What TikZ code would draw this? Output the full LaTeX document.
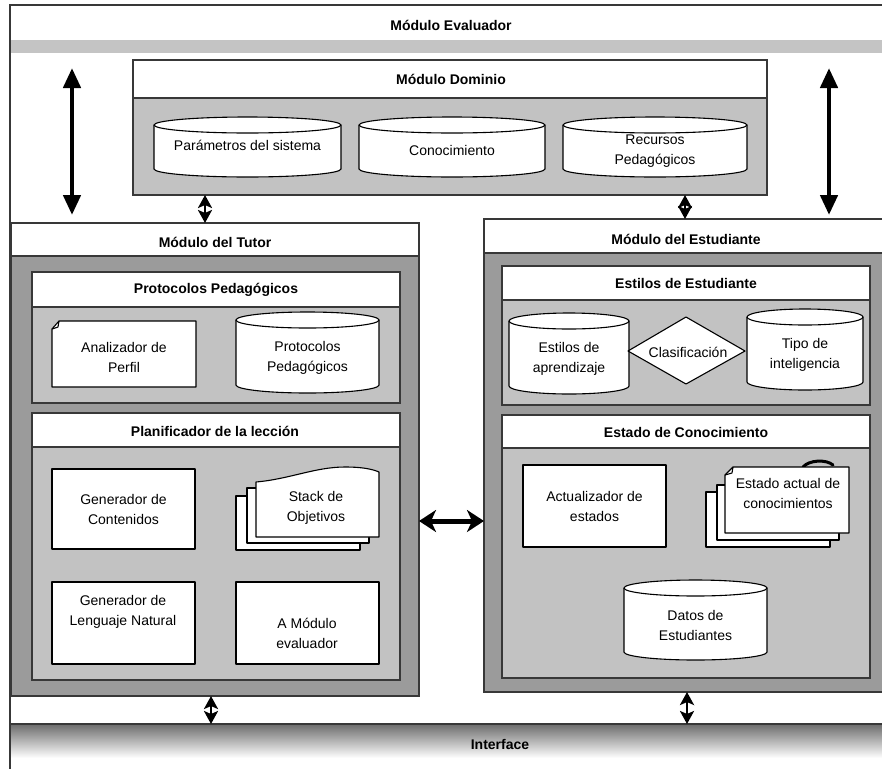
\documentclass[tikz,border=0pt]{standalone}
\usepackage{fontspec}
\setmainfont{Liberation Sans}
\usetikzlibrary{arrows.meta}

\definecolor{frameline}{HTML}{383838}
\definecolor{darkbody}{HTML}{9B9B9B}
\definecolor{lightbody}{HTML}{C2C2C2}
\definecolor{bandgray}{HTML}{C4C4C4}
\definecolor{ifacetop}{HTML}{6C6C6C}

\tikzset{
  frame/.style={draw=frameline, line width=1.5pt},
  box/.style={draw=frameline, line width=1.3pt},
  hdr/.style={font=\fontsize{14}{17}\selectfont\bfseries, inner sep=0pt},
  lbl/.style={font=\fontsize{14}{20}\selectfont, align=center, inner sep=0pt},
  sheet/.style={draw=black, line width=1.1pt, fill=white, line join=round},
  dbline/.style={draw=black, line width=1.1pt, fill=white},
  bigarrow/.style={line width=4.5pt,
    {Triangle[length=20pt,width=17pt]}-{Triangle[length=20pt,width=17pt]}},
  smallarrow/.style={line width=2.6pt,
    {Stealth[length=13pt,width=14pt,inset=3pt]}-{Stealth[length=13pt,width=14pt,inset=3pt]}},
  sidearrow/.style={line width=5pt,
    {Stealth[length=17pt,width=22pt,inset=5pt]}-{Stealth[length=17pt,width=22pt,inset=5pt]}},
}

% rectangular area given by its corners: name, style, x1, y1, x2, y2, text
\newcommand\areabox[7]{%
  \node[#2, anchor=north west, inner sep=0pt, outer sep=0pt,
        minimum width={(#5-#3)*1pt}, minimum height={(#6-#4)*1pt}] (#1) at (#3,#4) {#7};}

% database cylinder: name, x1, y1, x2, y2, text, text y
\newcommand\dbry{8}
\newcommand\dbcyl[7]{%
  \pgfmathsetmacro\dbcx{(#2+#4)/2}%
  \pgfmathsetmacro\dbrx{(#4-#2)/2}%
  \pgfmathsetmacro\dbyt{#3+\dbry}%
  \pgfmathsetmacro\dbyb{#5-\dbry}%
  \filldraw[dbline] (#2,\dbyt) -- (#2,\dbyb)
     arc[start angle=180, end angle=0, x radius=\dbrx, y radius=\dbry]
     -- (#4,\dbyt)
     arc[start angle=0, end angle=-180, x radius=\dbrx, y radius=\dbry] -- cycle;
  \draw[dbline, fill=none] (#2,\dbyt)
     arc[start angle=180, end angle=0, x radius=\dbrx, y radius=\dbry];
  \node[lbl] (#1) at (\dbcx,#7) {#6};}

\begin{document}
\begin{tikzpicture}[x=1pt, y=-1pt]
\useasboundingbox (0,0) rectangle (882,769);
\clip (0,0) rectangle (882,769);
\fill[white] (0,0) rectangle (882,769);

% ---- evaluator frame and interface bar
\fill[bandgray] (10,40) rectangle (882,53);
\shade[top color=ifacetop, bottom color=white] (10,724) rectangle (882,758);
\areabox{ifacebar}{}{10}{724}{882}{769}{}
\draw[frame] (882,5) -- (10,5) -- (10,769);
\draw[frame] (ifacebar.north west) -- (ifacebar.north east);
\node[hdr] (evaluador) at (451,25) {Módulo Evaluador};
\node[hdr] (interface) at (500,744) {Interface};

% ---- domain module
\areabox{dombody}{box, fill=lightbody}{133}{60}{767}{195}{}
\areabox{domhead}{box, fill=white}{133}{60}{767}{98}{}
\node[hdr] (domtitle) at (451,79) {Módulo Dominio};
\dbcyl{parametros}{154}{117}{341}{177}{Parámetros del sistema}{145}
\dbcyl{conocimiento}{359}{117}{545}{177}{Conocimiento}{150}
\dbcyl{recursos}{563}{117}{747}{177}{Recursos\\Pedagógicos}{151}

% ---- tutor module
\areabox{tutorbody}{box, fill=darkbody}{11}{223}{419}{696}{}
\areabox{tutorhead}{box, fill=white}{11}{223}{419}{256}{}
\node[hdr] (tutortitle) at (215,242) {Módulo del Tutor};

\areabox{protbody}{box, fill=lightbody}{32}{272}{400}{403}{}
\areabox{prothead}{box, fill=white}{32}{272}{400}{307}{}
\node[hdr] (prottitle) at (216,290) {Protocolos Pedagógicos};
\filldraw[sheet] (52,329) -- (59,321) -- (196,321) -- (196,387) -- (52,387) -- cycle;
\draw[sheet, fill=none] (52,329) -- (58,327) -- (59,321);
\node[lbl] (analizador) at (124,357) {Analizador de\\Perfil};
\dbcyl{protocolos}{236}{312}{379}{393}{Protocolos\\Pedagógicos}{358}

\areabox{planbody}{box, fill=lightbody}{32}{413}{400}{680}{}
\areabox{planhead}{box, fill=white}{32}{413}{400}{447}{}
\node[hdr] (plantitle) at (215,431) {Planificador de la lección};
\areabox{contenidos}{sheet, lbl}{52}{469}{195}{549}{Generador de\\Contenidos}
\filldraw[sheet] (236,496) rectangle (360,550);
\filldraw[sheet] (247,488) rectangle (369,543);
\filldraw[sheet] (256,482) .. controls (290,479) and (315,467) .. (345,467)
  .. controls (362,467) and (372,469) .. (379,472) -- (379,537) -- (256,537) -- cycle;
\node[lbl] (stack) at (316,508) {Stack de\\Objetivos};
\areabox{lenguajebox}{sheet}{52}{582}{195}{664}{}
\node[lbl] (lenguaje) at (123,612) {Generador de\\Lenguaje Natural};
\areabox{amodulo}{sheet, lbl}{236}{582}{379}{664}{}
\node[lbl] (amodtext) at (307,633) {A Módulo\\evaluador};

% ---- student module
\areabox{studbody}{box, fill=darkbody}{484}{219}{889}{692}{}
\areabox{studhead}{box, fill=white}{484}{219}{889}{253}{}
\node[hdr] (studtitle) at (686,239) {Módulo del Estudiante};

\areabox{estbody}{box, fill=lightbody}{502}{266}{870}{405}{}
\areabox{esthead}{box, fill=white}{502}{266}{870}{300}{}
\node[hdr] (esttitle) at (686,283) {Estilos de Estudiante};
\dbcyl{aprendizaje}{509}{313}{629}{394}{Estilos de\\aprendizaje}{359}
\dbcyl{inteligencia}{747}{309}{863}{390}{Tipo de\\inteligencia}{355}
\filldraw[sheet] (628,351) -- (686,317) -- (745,351) -- (686,384) -- cycle;
\node[lbl] (clasif) at (688,352) {Clasificación};

\areabox{edobody}{box, fill=lightbody}{502}{415}{870}{678}{}
\areabox{edohead}{box, fill=white}{502}{415}{870}{448}{}
\node[hdr] (edotitle) at (686,432) {Estado de Conocimiento};
\areabox{actualizador}{sheet, lbl}{523}{465}{666}{547}{Actualizador de\\estados}
\draw[line width=3pt, line cap=round] (803,467) .. controls (809,460) and (826,459) .. (833,465);
\filldraw[sheet] (706,492) rectangle (830,547);
\filldraw[sheet] (717,485) rectangle (839,540);
\filldraw[sheet] (725,475) -- (733,467) -- (849,467) -- (849,533) -- (725,533) -- cycle;
\draw[sheet, fill=none] (725,475) -- (732,473) -- (733,467);
\node[lbl] (estadoactual) at (788,493) {Estado actual de\\conocimientos};
\dbcyl{datos}{624}{580}{767}{660}{Datos de\\Estudiantes}{625}

% ---- connectors
\coordinate (evl) at (72,68);
\coordinate (evlb) at (72,215);
\coordinate (evr) at (829,68);
\coordinate (evrb) at (829,215);
\draw[bigarrow] (evl) -- (evlb);
\draw[bigarrow] (evr) -- (evrb);

\coordinate (xa) at (205,0);
\coordinate (xb) at (685,0);
\coordinate (xc) at (211,0);
\coordinate (xd) at (687,0);
\coordinate (ym) at (0,521);
\draw[smallarrow] (xa |- dombody.south) -- (xa |- tutorbody.north);
\draw[smallarrow] (xb |- dombody.south) -- (xb |- studbody.north);
\draw[smallarrow] (xc |- tutorbody.south) -- (xc |- ifacebar.north);
\draw[smallarrow] (xd |- studbody.south) -- (xd |- ifacebar.north);
\draw[sidearrow] (tutorbody.east |- ym) -- (studbody.west |- ym);
\end{tikzpicture}
\end{document}
